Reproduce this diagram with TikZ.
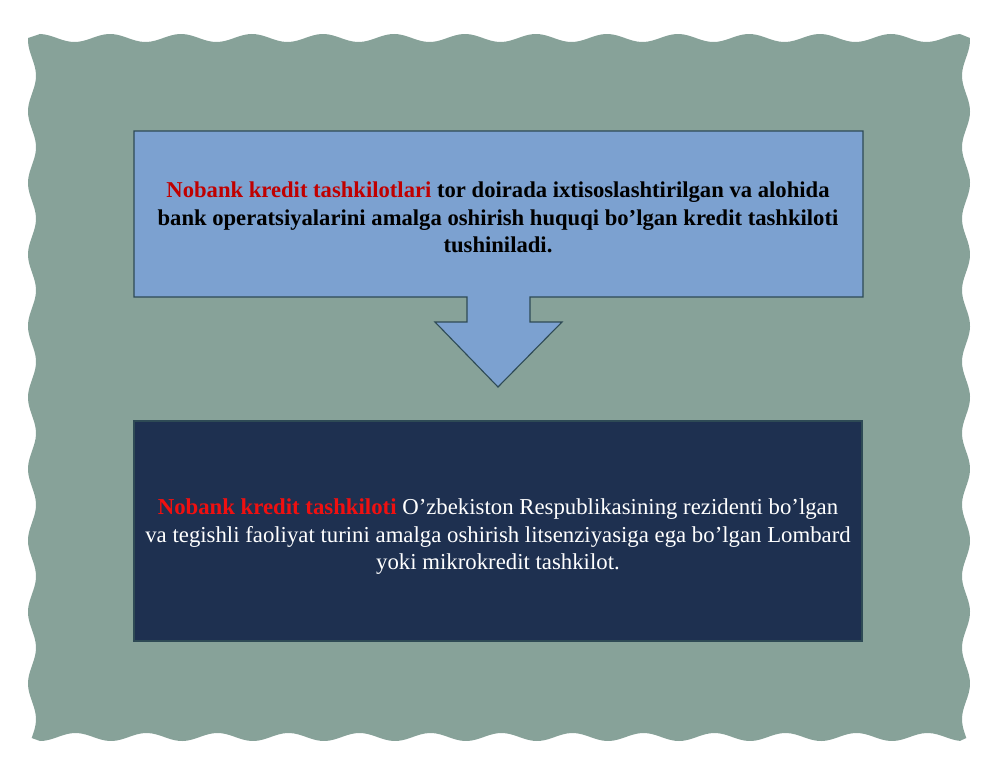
\documentclass[tikz,border=0pt]{standalone}
\usepackage{fontspec}
\setmainfont{Liberation Serif}
\definecolor{bggreen}{HTML}{87A299}
\definecolor{boxblue}{HTML}{7CA1D0}
\definecolor{boxnavy}{HTML}{1E3050}
\definecolor{edgecol}{HTML}{2E4A55}
\definecolor{redA}{HTML}{C00000}
\definecolor{redB}{HTML}{F01010}
\tikzset{
  panel/.style={fill=bggreen},
  bluebox/.style={fill=boxblue, draw=edgecol, line width=0.8pt},
  navybox/.style={fill=boxnavy, draw=edgecol, line width=0.8pt},
  bluetext/.style={align=center, font=\fontsize{16.3}{19.6}\selectfont\bfseries, text=black},
  navytext/.style={align=center, font=\fontsize{16.4}{19.8}\selectfont, text=white}
}
\begin{document}
\begin{tikzpicture}[x=0.72pt,y=-0.72pt]
\useasboundingbox (0,0) rectangle (1000,773);
\fill[white] (0,0) rectangle (1000,773);
% wavy background panel
\fill[panel] (40,34)
  -- plot[domain=40:960,samples=240,smooth] (\x,{38-4*cos(5.0704*(\x-110))})
  -- plot[domain=38:738,samples=200,smooth] ({966+4*cos(5.035*(\x-40))},\x)
  -- plot[domain=960:40,samples=240,smooth] (\x,{737+4*cos(5.0704*(\x-40))})
  -- plot[domain=738:38,samples=200,smooth] ({32-4*cos(5.035*(\x-40))},\x)
  -- cycle;
% blue callout with down arrow
\coordinate (b1) at (134,131);
\coordinate (b2) at (863,131);
\coordinate (b3) at (863,297);
\coordinate (s1) at (530,297);
\coordinate (s2) at (530,322);
\coordinate (h1) at (562,322);
\coordinate (tip) at (498,387);
\coordinate (h2) at (435,322);
\coordinate (s3) at (467,322);
\coordinate (s4) at (467,297);
\coordinate (b4) at (134,297);
\draw[bluebox] (b1) -- (b2) -- (b3) -- (s1) -- (s2) -- (h1) -- (tip) -- (h2) -- (s3) -- (s4) -- (b4) -- cycle;
\node[bluetext] (t1) at (498,217.5) {\textcolor{redA}{Nobank kredit tashkilotlari} tor doirada ixtisoslashtirilgan va alohida\\
bank operatsiyalarini amalga oshirish huquqi bo’lgan kredit tashkiloti\\
tushiniladi.};
% navy box
\draw[navybox] (134,421) rectangle (862,641);
\node[navytext] (t2) at (498,537) {\textcolor{redB}{\bfseries Nobank kredit tashkiloti} O’zbekiston Respublikasining rezidenti bo’lgan\\
va tegishli faoliyat turini amalga oshirish litsenziyasiga ega bo’lgan Lombard\\
yoki mikrokredit tashkilot.};
\end{tikzpicture}
\end{document}
